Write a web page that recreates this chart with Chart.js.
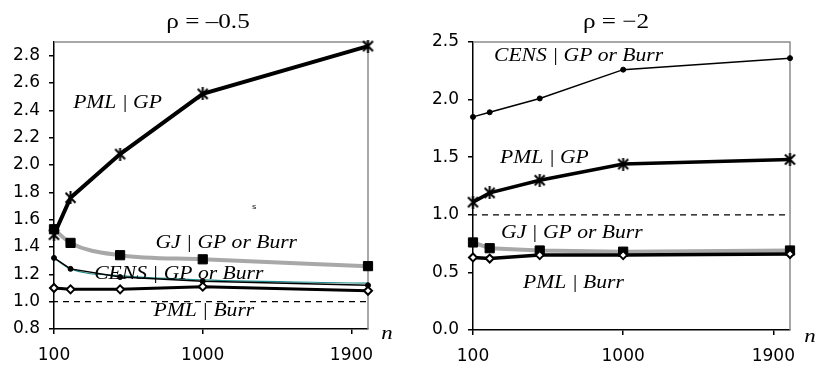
<!DOCTYPE html>
<html>
<head>
<meta charset="utf-8">
<script src="https://cdn.jsdelivr.net/npm/chart.js@4/dist/chart.umd.min.js"></script>
<style>
  body { margin: 0; background: #fff; }
  #wrap { position: relative; width: 816px; height: 370px; }
  canvas { position: absolute; top: 0; }
  #leftChart { left: 0; }
  #rightChart { left: 408px; }
</style>
</head>
<body>
<div id="wrap">
  <canvas id="leftChart" width="408" height="370"></canvas>
  <canvas id="rightChart" width="408" height="370"></canvas>
</div>
<script>
// sample sizes n
const nValues = [100, 200, 500, 1000, 2000];
const xTicks = [100, 1000, 1900];

// rho = -0.5
const leftYTicks = [0.8, 1.0, 1.2, 1.4, 1.6, 1.8, 2.0, 2.2, 2.4, 2.6, 2.8];
const leftPmlGp = [1.49, 1.76, 2.08, 2.52, 2.87];
const leftGj = [1.53, 1.43, 1.34, 1.31, 1.26];
const leftCensBurr = [1.32, 1.24, 1.18, 1.15, 1.12];
const leftCensGp = [1.32, 1.24, 1.19, 1.16, 1.135];
const leftPmlBurr = [1.10, 1.09, 1.09, 1.11, 1.08];

// rho = -2
const rightYTicks = [0.0, 0.5, 1.0, 1.5, 2.0, 2.5];
const rightCens = [1.85, 1.89, 2.01, 2.26, 2.36];
const rightPmlGp = [1.11, 1.19, 1.30, 1.44, 1.48];
const rightGj = [0.76, 0.71, 0.69, 0.68, 0.69];
const rightPmlBurr = [0.63, 0.62, 0.65, 0.65, 0.66];

// reference level
const refN = [100, 2000];
const refY = [1.0, 1.0];

const SERIF = "'Liberation Serif', 'DejaVu Serif', serif";
const LABEL_FONT = "italic 18px " + SERIF;
const STRETCH = 1.2;

function points(ys, xs) {
  xs = xs || nValues;
  return ys.map(function (y, i) {
    return { x: xs[i], y: y };
  });
}

function makeStar(size, lw) {
  const c = document.createElement("canvas");
  c.width = size;
  c.height = size;
  const g = c.getContext("2d");
  g.strokeStyle = "#000";
  g.lineWidth = lw;
  const m = lw / 2 + 0.5;
  g.beginPath();
  g.moveTo(m, m);
  g.lineTo(size - m, size - m);
  g.moveTo(size - m, m);
  g.lineTo(m, size - m);
  g.moveTo(size / 2, 0);
  g.lineTo(size / 2, size);
  g.stroke();
  return c;
}

const star = makeStar(13, 2);

function drawText(ctx, text, x, y, font, align, baseline) {
  ctx.save();
  ctx.font = font;
  ctx.fillStyle = "#000";
  ctx.textAlign = align;
  ctx.textBaseline = baseline;
  ctx.translate(x, y);
  ctx.scale(STRETCH, 1);
  ctx.fillText(text, 0, 0);
  ctx.restore();
}

function makeTextPlugin(title, labels, nLabelX, nLabelY) {
  return {
    id: "panelText",
    beforeDatasetsDraw: function (chart) {
      const ctx = chart.ctx;
      const a = chart.chartArea;
      ctx.save();
      ctx.strokeStyle = "#8c8c8c";
      ctx.lineWidth = 1.5;
      ctx.beginPath();
      ctx.moveTo(a.left, a.top);
      ctx.lineTo(a.right, a.top);
      ctx.lineTo(a.right, a.bottom);
      ctx.stroke();
      ctx.restore();
    },
    afterDatasetsDraw: function (chart) {
      const ctx = chart.ctx;
      const xs = chart.scales.x;
      const ys = chart.scales.y;
      labels.forEach(function (l) {
        drawText(ctx, l.text, xs.getPixelForValue(l.n), ys.getPixelForValue(l.v), l.font || LABEL_FONT, "left", "middle");
      });
      drawText(ctx, title, 208, 28, "21px " + SERIF, "center", "alphabetic");
      drawText(ctx, "n", nLabelX, nLabelY, "italic 19px " + SERIF, "center", "middle");
    }
  };
}

function lineSet(data, color, width, style, radius, extra) {
  const ds = {
    data: data,
    borderColor: color,
    borderWidth: width,
    pointStyle: style,
    pointRadius: radius,
    pointBackgroundColor: "#000",
    pointBorderColor: "#000",
    pointBorderWidth: 1,
    tension: 0,
    clip: false
  };
  return Object.assign(ds, extra || {});
}

function scaleOptions(yTicks, yMin, yMax, yWidth, xHeight) {
  return {
    x: {
      type: "linear",
      min: 100,
      max: 2000,
      afterBuildTicks: function (scale) {
        scale.ticks = xTicks.map(function (v) { return { value: v }; });
      },
      afterFit: function (scale) {
        scale.height = xHeight;
      },
      border: { color: "#000", width: 1.5 },
      grid: { drawOnChartArea: false, color: "#000", lineWidth: 1.5, tickLength: 5 },
      ticks: {
        autoSkip: false,
        maxRotation: 0,
        padding: 11,
        color: "#000",
        font: { family: "'DejaVu Sans'", size: 17 },
        callback: function (v) { return String(v); }
      }
    },
    y: {
      min: yMin,
      max: yMax,
      afterBuildTicks: function (scale) {
        scale.ticks = yTicks.map(function (v) { return { value: v }; });
      },
      afterFit: function (scale) {
        scale.width = yWidth;
      },
      border: { color: "#000", width: 1.5 },
      grid: { drawOnChartArea: false, color: "#000", lineWidth: 1.5, tickLength: 5 },
      ticks: {
        padding: 9,
        color: "#000",
        font: { family: "'DejaVu Sans'", size: 17 },
        callback: function (v) { return Number(v).toFixed(1); }
      }
    }
  };
}

function createLeftChart() {
  const ctx = document.getElementById("leftChart").getContext("2d");
  const labels = [
    { text: "PML | GP", n: 216, v: 2.45 },
    { text: "GJ | GP or Burr", n: 714, v: 1.43 },
    { text: "CENS | GP or Burr", n: 343, v: 1.20 },
    { text: "PML | Burr", n: 702, v: 0.93 },
    { text: "s", n: 1298, v: 1.69, font: "7px 'DejaVu Sans'" }
  ];
  new Chart(ctx, {
    type: "line",
    data: {
      datasets: [
        lineSet(points(leftPmlGp), "#000", 4, star, 6),
        lineSet(points(leftPmlBurr), "#000", 3, "rectRot", 4, { pointBackgroundColor: "#fff", pointBorderWidth: 2 }),
        lineSet(points(leftCensBurr), "#000", 1.5, "circle", 2.5),
        lineSet(points(leftCensGp), "#1a8a8a", 1.2, "circle", 0, { cubicInterpolationMode: "monotone" }),
        lineSet(points(leftGj), "#a8a8a8", 4, "rect", 6.5, { cubicInterpolationMode: "monotone" }),
        lineSet(points(refY, refN), "#000", 1.2, "circle", 0, { borderDash: [6, 5], borderDashOffset: 2 })
      ]
    },
    options: {
      responsive: false,
      animation: false,
      layout: { padding: { top: 42, right: 40, left: 0, bottom: 0 } },
      plugins: { legend: { display: false }, tooltip: { enabled: false } },
      scales: scaleOptions(leftYTicks, 0.8, 2.9, 54, 41)
    },
    plugins: [makeTextPlugin("\u03c1 = \u20130.5", labels, 387, 334)]
  });
}

function createRightChart() {
  const ctx = document.getElementById("rightChart").getContext("2d");
  const labels = [
    { text: "CENS | GP or Burr", n: 226, v: 2.38 },
    { text: "PML | GP", n: 262, v: 1.49 },
    { text: "GJ | GP or Burr", n: 268, v: 0.84 },
    { text: "PML | Burr", n: 400, v: 0.41 }
  ];
  new Chart(ctx, {
    type: "line",
    data: {
      datasets: [
        lineSet(points(rightPmlGp), "#000", 3.5, star, 6),
        lineSet(points(rightCens), "#000", 1.5, "circle", 2.5),
        lineSet(points(rightPmlBurr), "#000", 3.5, "rectRot", 4, { pointBackgroundColor: "#fff", pointBorderWidth: 2 }),
        lineSet(points(rightGj), "#a8a8a8", 4, "rect", 6.5),
        lineSet(points(refY, refN), "#000", 1.2, "circle", 0, { borderDash: [6, 5], borderDashOffset: 2 })
      ]
    },
    options: {
      responsive: false,
      animation: false,
      layout: { padding: { top: 42, right: 26, left: 0, bottom: 0 } },
      plugins: { legend: { display: false }, tooltip: { enabled: false } },
      scales: scaleOptions(rightYTicks, 0, 2.5, 65, 40)
    },
    plugins: [makeTextPlugin("\u03c1 = \u22122", labels, 402, 337)]
  });
}

createLeftChart();
createRightChart();
</script>
</body>
</html>
